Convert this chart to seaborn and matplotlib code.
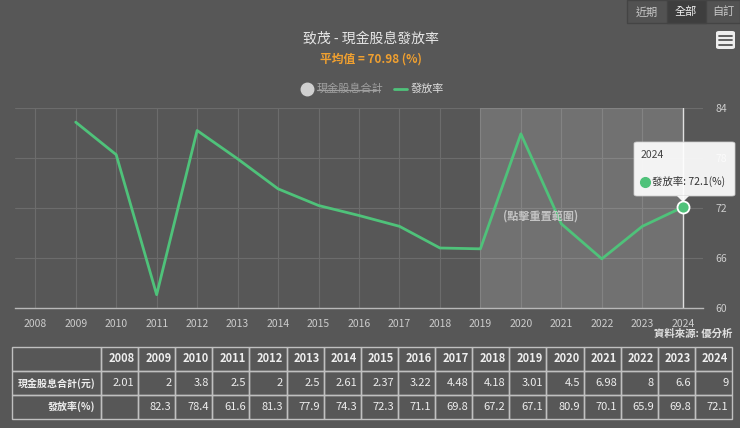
import numpy as np
import pandas as pd
import seaborn as sns
import matplotlib.pyplot as plt
from matplotlib.patches import FancyBboxPatch, Polygon, Rectangle
from matplotlib.lines import Line2D

# 데이터
years = list(range(2008, 2025))
cash_div = [2.01, 2, 3.8, 2.5, 2, 2.5, 2.61, 2.37, 3.22, 4.48, 4.18, 3.01, 4.5, 6.98, 8, 6.6, 9]
payout = [np.nan, 82.3, 78.4, 61.6, 81.3, 77.9, 74.3, 72.3, 71.1, 69.8, 67.2, 67.1, 80.9, 70.1, 65.9, 69.8, 72.1]
y_ticks = [60, 66, 72, 78, 84]
avg_label = '平均值 = 70.98 (%)'

BG = '#575757'
GREEN = '#4fc27a'

sns.set_theme(style='dark')
plt.rcParams['font.family'] = ['Noto Sans CJK TC', 'DejaVu Sans']
plt.rcParams['axes.unicode_minus'] = False

W, H = 740, 428
def fx(px): return px / W
def fy(py): return 1 - py / H

fig = plt.figure(figsize=(7.4, 4.28), dpi=100, facecolor=BG)

ax = fig.add_axes([fx(15), fy(308), fx(703) - fx(15), fy(108) - fy(308)])
ax.set_facecolor(BG)

df = pd.DataFrame({'year': years, 'rate': payout})
ax.axvspan(2019, 2024, color='white', alpha=0.16, lw=0, zorder=1)
sns.lineplot(data=df, x='year', y='rate', color=GREEN, lw=2, ax=ax, zorder=3)
ax.axvline(2024, color='#e0e0e0', lw=1, zorder=2)
ax.scatter([years[-1]], [payout[-1]], s=75, color=GREEN, edgecolor='white', lw=1.3, zorder=5)

ax.set_xlim(2007.5, 2024.5)
ax.set_ylim(60, 84)
ax.set_xticks(years)
ax.set_yticks(y_ticks)
ax.yaxis.tick_right()
ax.tick_params(axis='x', length=0, pad=8, labelsize=7.5, labelcolor='#cccccc')
ax.tick_params(axis='y', length=0, pad=9, labelsize=7.5, labelcolor='#cccccc')
ax.grid(True, color='#6c6c6c', lw=0.8)
for s in ['top', 'left', 'right']:
    ax.spines[s].set_visible(False)
ax.spines['bottom'].set_color('#b8b8b8')
ax.spines['bottom'].set_linewidth(1)
ax.set_xlabel('')
ax.set_ylabel('')

ax.text(2020.5, 71.0, '(點擊重置範圍)', ha='center', va='center', fontsize=8,
        color='#c4c4c4', fontweight='bold', zorder=4)

# 제목
fig.text(fx(371), fy(38), '致茂 - 現金股息發放率', ha='center', va='center',
         fontsize=10, color='#e6e6e6')
fig.text(fx(371), fy(59), avg_label, ha='center', va='center',
         fontsize=8.5, color='#f0a030', fontweight='bold')

# 범례
fig.add_artist(Line2D([fx(307)], [fy(89)], marker='o', ms=9, color='#d0d0d0', lw=0))
fig.text(fx(317), fy(89), '現金股息合計', ha='left', va='center', fontsize=8, color='#a0a0a0')
fig.add_artist(Line2D([fx(317), fx(380)], [fy(89.5), fy(89.5)], color='#a0a0a0', lw=0.9))
fig.add_artist(Line2D([fx(394), fx(407)], [fy(89), fy(89)], color=GREEN, lw=2))
fig.text(fx(411), fy(89), '發放率', ha='left', va='center', fontsize=8, color='#dddddd')

# 버튼
fig.add_artist(Rectangle((fx(627), fy(23)), fx(740) - fx(627), fy(0) - fy(23),
                         facecolor='#525252', edgecolor='#444444', lw=1))
fig.add_artist(Rectangle((fx(667), fy(23)), fx(706) - fx(667), fy(0) - fy(23),
                         facecolor='#3e3e3e', edgecolor='#444444', lw=1))
for label, px, c in [('近期', 647, '#c8c8c8'), ('全部', 686, '#f0f0f0'), ('自訂', 723, '#c8c8c8')]:
    fig.text(fx(px), fy(12), label, ha='center', va='center', fontsize=8, color=c)

fig.add_artist(FancyBboxPatch((fx(716), fy(49)), fx(735) - fx(716), fy(31) - fy(49),
                              boxstyle='round,pad=0,rounding_size=0.004',
                              facecolor='#eeeeee', edgecolor='none'))
for py in [35.5, 40, 44.5]:
    fig.add_artist(Line2D([fx(719), fx(732)], [fy(py), fy(py)], color='#555555', lw=1.3))

# 툴팁
fig.add_artist(FancyBboxPatch((fx(634), fy(196)), fx(735) - fx(634), fy(142) - fy(196),
                              boxstyle='round,pad=0,rounding_size=0.004',
                              facecolor='white', alpha=0.92, edgecolor='#cccccc', lw=0.6))
fig.add_artist(Polygon([[fx(677), fy(196)], [fx(689), fy(196)], [fx(683), fy(202)]],
                       closed=True, facecolor='white', alpha=0.92, edgecolor='none'))
fig.text(fx(641), fy(155), '2024', ha='left', va='center', fontsize=7.5, color='#444444')
fig.add_artist(Line2D([fx(645)], [fy(182)], marker='o', ms=7, color=GREEN, lw=0))
fig.text(fx(652), fy(182), f'發放率: {payout[-1]}(%)', ha='left', va='center',
         fontsize=7.5, color='#333333')

fig.text(fx(732), fy(334), '資料來源: 優分析', ha='right', va='center',
         fontsize=7.5, color='#e0e0e0', fontweight='bold')

# 표
tax = fig.add_axes([fx(12), fy(419), fx(732) - fx(12), fy(347) - fy(419)])
tax.axis('off')
fmt = lambda v: '' if pd.isna(v) else f'{v:g}'
rows = [[''] + [str(y) for y in years],
        ['現金股息合計(元)'] + [fmt(v) for v in cash_div],
        ['發放率(%)'] + [fmt(v) for v in payout]]
first_w = 89 / 720
col_w = [first_w] + [(1 - first_w) / len(years)] * len(years)
tbl = tax.table(cellText=rows, colWidths=col_w, cellLoc='right', bbox=[0, 0, 1, 1])
tbl.auto_set_font_size(False)
for (r, c), cell in tbl.get_celld().items():
    cell.set_facecolor('none')
    cell.set_edgecolor('#c0c0c0')
    cell.set_linewidth(1)
    cell.PAD = 0.1
    bold = (r == 0) or (c == 0)
    cell.set_text_props(color='#eeeeee', fontsize=8,
                        fontweight='bold' if bold else 'normal')
    if r == 0:
        cell._loc = 'center'
    if c == 0:
        cell.PAD = 0.06
        cell.set_text_props(fontsize=7.2)

fig.savefig('out.png', dpi=100, facecolor=BG)
